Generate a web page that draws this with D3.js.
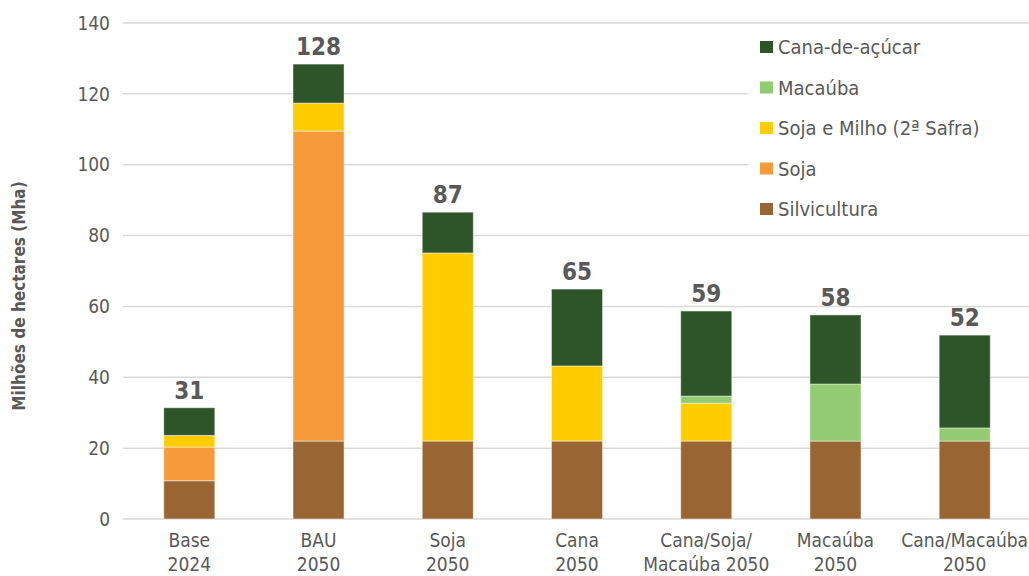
<!DOCTYPE html>
<html>
<head>
<meta charset="utf-8">
<script src="https://cdn.jsdelivr.net/npm/d3@7"></script>
<style>
  html, body { margin: 0; padding: 0; background: #fff; }
  svg text { font-family: "Liberation Sans Narrow", "DejaVu Sans Condensed", sans-serif; fill: #595959; }
</style>
</head>
<body>
<svg id="chart" width="1029" height="576"></svg>
<script>
// Scenario labels (two lines each)
const categories = [
  ["Base", "2024"],
  ["BAU", "2050"],
  ["Soja", "2050"],
  ["Cana", "2050"],
  ["Cana/Soja/", "Macaúba 2050"],
  ["Macaúba", "2050"],
  ["Cana/Macaúba", "2050"]
];

// Land area per crop, Mha
const silvicultura = [10.8, 22.0, 22.0, 22.0, 22.0, 22.0, 22.0];
const soja         = [ 9.5, 87.5,  0.0,  0.0,  0.0,  0.0,  0.0];
const sojaMilho    = [ 3.3,  7.9, 53.1, 21.2, 10.7,  0.0,  0.0];
const macauba      = [ 0.0,  0.0,  0.0,  0.0,  2.0, 16.1,  3.7];
const cana         = [ 7.8, 11.0, 11.5, 21.7, 24.0, 19.5, 26.2];

const totalLabels = [31, 128, 87, 65, 59, 58, 52];
const yTicks = [0, 20, 40, 60, 80, 100, 120, 140];

const seriesNames = ["Silvicultura", "Soja", "Soja e Milho (2ª Safra)", "Macaúba", "Cana-de-açúcar"];
const seriesValues = [silvicultura, soja, sojaMilho, macauba, cana];
const seriesColors = ["#996633", "#f69a3b", "#ffcc00", "#93cb72", "#2e5429"];

const svg = d3.select("#chart");
const margin = { left: 125, right: 0, top: 23, bottom: 57 };
const W = 1029, H = 576;

const x = d3.scaleBand()
  .domain(d3.range(categories.length))
  .range([margin.left, W - margin.right])
  .paddingInner(0.605)
  .paddingOuter(0.3);

const y = d3.scaleLinear().domain([0, 140]).range([H - margin.bottom, margin.top]);

// Gridlines
svg.append("g").selectAll("line").data(yTicks).join("line")
  .attr("x1", margin.left - 2).attr("x2", W)
  .attr("y1", d => y(d)).attr("y2", d => y(d))
  .attr("stroke", "#d9d9d9").attr("stroke-width", 1.5);

// Y tick labels
svg.append("g").selectAll("text").data(yTicks).join("text")
  .attr("x", 110).attr("y", d => y(d)).attr("dy", "0.35em")
  .attr("text-anchor", "end").attr("font-size", 19)
  .text(d => d);

// Y axis title
svg.append("text")
  .attr("transform", `translate(25, ${(margin.top + H - margin.bottom) / 2 + 25}) rotate(-90)`)
  .attr("text-anchor", "middle").attr("font-size", 17).attr("font-weight", "bold")
  .text("Milhões de hectares (Mha)");

// Stacked bars
const table = categories.map((c, i) => {
  const row = { idx: i };
  seriesNames.forEach((n, k) => row[n] = seriesValues[k][i]);
  return row;
});
const stacked = d3.stack().keys(seriesNames)(table);

svg.append("g").selectAll("g").data(stacked).join("g")
  .attr("fill", (d, k) => seriesColors[k])
  .selectAll("rect").data(d => d.filter(p => p[1] - p[0] > 0)).join("rect")
  .attr("x", d => x(d.data.idx))
  .attr("width", x.bandwidth())
  .attr("y", d => y(d[1]))
  .attr("height", d => y(d[0]) - y(d[1]))
  .attr("stroke", "rgba(255,255,255,0.45)")
  .attr("stroke-width", 1);

// Totals above bars
const tops = table.map((r, i) => d3.sum(seriesValues, s => s[i]));
svg.append("g").selectAll("text").data(totalLabels).join("text")
  .attr("x", (d, i) => x(i) + x.bandwidth() / 2)
  .attr("y", (d, i) => y(tops[i]) - 9)
  .attr("text-anchor", "middle").attr("font-size", 24).attr("font-weight", "bold")
  .text(d => d);

// Category labels
const cat = svg.append("g").selectAll("text").data(categories).join("text")
  .attr("x", (d, i) => x(i) + x.bandwidth() / 2)
  .attr("y", 547)
  .attr("text-anchor", "middle").attr("font-size", 19);
cat.append("tspan").attr("x", (d, i) => x(i) + x.bandwidth() / 2).text(d => d[0]);
cat.append("tspan").attr("x", (d, i) => x(i) + x.bandwidth() / 2).attr("dy", 24).text(d => d[1]);

// Legend (top to bottom, reverse stack order)
const legend = svg.append("g");
legend.append("rect").attr("x", 748).attr("y", 26).attr("width", 281).attr("height", 200).attr("fill", "#fff");
const legendOrder = d3.range(seriesNames.length).reverse();
const li = legend.selectAll("g.item").data(legendOrder).join("g")
  .attr("class", "item")
  .attr("transform", (d, j) => `translate(760, ${47 + j * 40.5})`);
li.append("rect").attr("x", 0).attr("y", -6).attr("width", 13).attr("height", 12)
  .attr("fill", d => seriesColors[d]);
li.append("text").attr("x", 18).attr("dy", "0.35em").attr("font-size", 20)
  .text(d => seriesNames[d]);
</script>
</body>
</html>
